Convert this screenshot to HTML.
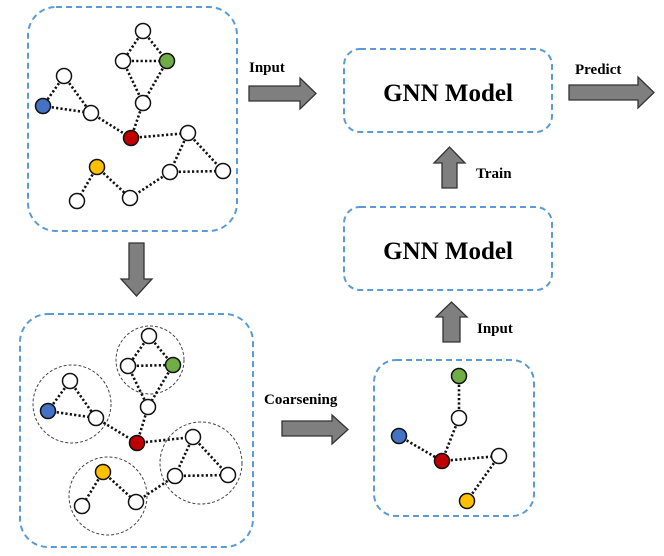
<!DOCTYPE html>
<html><head><style>body{margin:0;background:#fff}svg{display:block}</style></head><body>
<svg width="664" height="556" viewBox="0 0 664 556" xmlns="http://www.w3.org/2000/svg">
<defs><style>
.b{fill:none;stroke:#5b9bd5;stroke-width:2;stroke-dasharray:6 4}
.e{stroke:#111;stroke-width:2.6;stroke-dasharray:2.2 2.2}
.n{stroke:#111;stroke-width:1.5}
.a{fill:#7f7f7f;stroke:#333;stroke-width:1.3}
.t{font-family:"Liberation Serif",serif;font-weight:bold;fill:#000}
.c{fill:none;stroke:#444;stroke-width:1;stroke-dasharray:3 2}
</style></defs>

<!-- boxes -->
<rect class="b" x="28" y="7" width="209" height="224" rx="28"/>
<rect class="b" x="20" y="314" width="233" height="233" rx="28"/>
<rect class="b" x="374" y="360" width="160" height="156" rx="22"/>
<rect class="b" x="344" y="49" width="208" height="83" rx="16"/>
<rect class="b" x="344" y="207" width="208" height="83" rx="16"/>

<text class="t" x="448" y="101" font-size="25" text-anchor="middle">GNN Model</text>
<text class="t" x="448" y="259" font-size="25" text-anchor="middle">GNN Model</text>

<!-- arrows -->
<polygon class="a" points="249,86 300,86 300,78 316,93.5 300,109 300,101 249,101"/>
<polygon class="a" points="569,85 638,85 638,77 654,92.5 638,108 638,100 569,100"/>
<polygon class="a" points="442,188 442,163 434,163 449.5,147 465,163 457,163 457,188"/>
<polygon class="a" points="443,342 443,317 436,317 451.5,302 467,317 460,317 460,342"/>
<polygon class="a" points="282,421 332,421 332,415 348,429.5 332,444 332,436 282,436"/>
<polygon class="a" points="129,243 144,243 144,279 152,279 136.5,296 121,279 129,279"/>

<text class="t" x="249" y="72" font-size="15">Input</text>
<text class="t" x="575" y="74" font-size="15">Predict</text>
<text class="t" x="476" y="178" font-size="15">Train</text>
<text class="t" x="477" y="333" font-size="15">Input</text>
<text class="t" x="264" y="404" font-size="15">Coarsening</text>

<!-- top graph -->
<g>
<line class="e" x1="143" y1="31" x2="123" y2="61"/>
<line class="e" x1="143" y1="31" x2="167" y2="61"/>
<line class="e" x1="123" y1="61" x2="167" y2="61"/>
<line class="e" x1="123" y1="61" x2="143" y2="103"/>
<line class="e" x1="167" y1="61" x2="143" y2="103"/>
<line class="e" x1="143" y1="103" x2="131" y2="138"/>
<line class="e" x1="64" y1="76" x2="43" y2="106"/>
<line class="e" x1="64" y1="76" x2="91" y2="113"/>
<line class="e" x1="43" y1="106" x2="91" y2="113"/>
<line class="e" x1="91" y1="113" x2="131" y2="138"/>
<line class="e" x1="131" y1="138" x2="188" y2="133"/>
<line class="e" x1="188" y1="133" x2="223" y2="171"/>
<line class="e" x1="188" y1="133" x2="170" y2="172"/>
<line class="e" x1="170" y1="172" x2="223" y2="171"/>
<line class="e" x1="170" y1="172" x2="130" y2="198"/>
<line class="e" x1="97" y1="167" x2="130" y2="198"/>
<line class="e" x1="97" y1="167" x2="77" y2="201"/>
<circle class="n" cx="143" cy="31" r="7.5" fill="#fff"/>
<circle class="n" cx="123" cy="61" r="7.5" fill="#fff"/>
<circle class="n" cx="167" cy="61" r="7.5" fill="#70ad47"/>
<circle class="n" cx="143" cy="103" r="7.5" fill="#fff"/>
<circle class="n" cx="64" cy="76" r="7.5" fill="#fff"/>
<circle class="n" cx="43" cy="106" r="7.5" fill="#4472c4"/>
<circle class="n" cx="91" cy="113" r="7.5" fill="#fff"/>
<circle class="n" cx="131" cy="138" r="7.5" fill="#c00000"/>
<circle class="n" cx="188" cy="133" r="7.5" fill="#fff"/>
<circle class="n" cx="223" cy="171" r="7.5" fill="#fff"/>
<circle class="n" cx="170" cy="172" r="7.5" fill="#fff"/>
<circle class="n" cx="97" cy="167" r="7.5" fill="#ffc000"/>
<circle class="n" cx="77" cy="201" r="7.5" fill="#fff"/>
<circle class="n" cx="130" cy="198" r="7.5" fill="#fff"/>
</g>

<!-- bottom-left graph -->
<g>
<circle class="c" cx="150" cy="360" r="34"/>
<circle class="c" cx="72" cy="404" r="39"/>
<circle class="c" cx="108" cy="496" r="39"/>
<circle class="c" cx="201" cy="463" r="41"/>
<line class="e" x1="149" y1="336" x2="128" y2="366"/>
<line class="e" x1="149" y1="336" x2="173" y2="365"/>
<line class="e" x1="128" y1="366" x2="173" y2="365"/>
<line class="e" x1="128" y1="366" x2="148" y2="407"/>
<line class="e" x1="173" y1="365" x2="148" y2="407"/>
<line class="e" x1="148" y1="407" x2="137" y2="443"/>
<line class="e" x1="70" y1="381" x2="48" y2="411"/>
<line class="e" x1="70" y1="381" x2="96" y2="418"/>
<line class="e" x1="48" y1="411" x2="96" y2="418"/>
<line class="e" x1="96" y1="418" x2="137" y2="443"/>
<line class="e" x1="137" y1="443" x2="193" y2="437"/>
<line class="e" x1="193" y1="437" x2="228" y2="475"/>
<line class="e" x1="193" y1="437" x2="175" y2="476"/>
<line class="e" x1="175" y1="476" x2="228" y2="475"/>
<line class="e" x1="175" y1="476" x2="136" y2="502"/>
<line class="e" x1="103" y1="472" x2="136" y2="502"/>
<line class="e" x1="103" y1="472" x2="82" y2="506"/>
<circle class="n" cx="149" cy="336" r="7.5" fill="#fff"/>
<circle class="n" cx="128" cy="366" r="7.5" fill="#fff"/>
<circle class="n" cx="173" cy="365" r="7.5" fill="#70ad47"/>
<circle class="n" cx="148" cy="407" r="7.5" fill="#fff"/>
<circle class="n" cx="70" cy="381" r="7.5" fill="#fff"/>
<circle class="n" cx="48" cy="411" r="7.5" fill="#4472c4"/>
<circle class="n" cx="96" cy="418" r="7.5" fill="#fff"/>
<circle class="n" cx="137" cy="443" r="7.5" fill="#c00000"/>
<circle class="n" cx="193" cy="437" r="7.5" fill="#fff"/>
<circle class="n" cx="228" cy="475" r="7.5" fill="#fff"/>
<circle class="n" cx="175" cy="476" r="7.5" fill="#fff"/>
<circle class="n" cx="103" cy="472" r="7.5" fill="#ffc000"/>
<circle class="n" cx="82" cy="506" r="7.5" fill="#fff"/>
<circle class="n" cx="136" cy="502" r="7.5" fill="#fff"/>
</g>

<!-- coarsened graph -->
<g>
<line class="e" x1="459" y1="376" x2="459" y2="418"/>
<line class="e" x1="459" y1="418" x2="442" y2="461"/>
<line class="e" x1="399" y1="436" x2="442" y2="461"/>
<line class="e" x1="442" y1="461" x2="499" y2="456"/>
<line class="e" x1="499" y1="456" x2="467" y2="501"/>
<circle class="n" cx="459" cy="376" r="7.5" fill="#70ad47"/>
<circle class="n" cx="459" cy="418" r="7.5" fill="#fff"/>
<circle class="n" cx="399" cy="436" r="7.5" fill="#4472c4"/>
<circle class="n" cx="442" cy="461" r="7.5" fill="#c00000"/>
<circle class="n" cx="499" cy="456" r="7.5" fill="#fff"/>
<circle class="n" cx="467" cy="501" r="7.5" fill="#ffc000"/>
</g>
</svg>
</body></html>
